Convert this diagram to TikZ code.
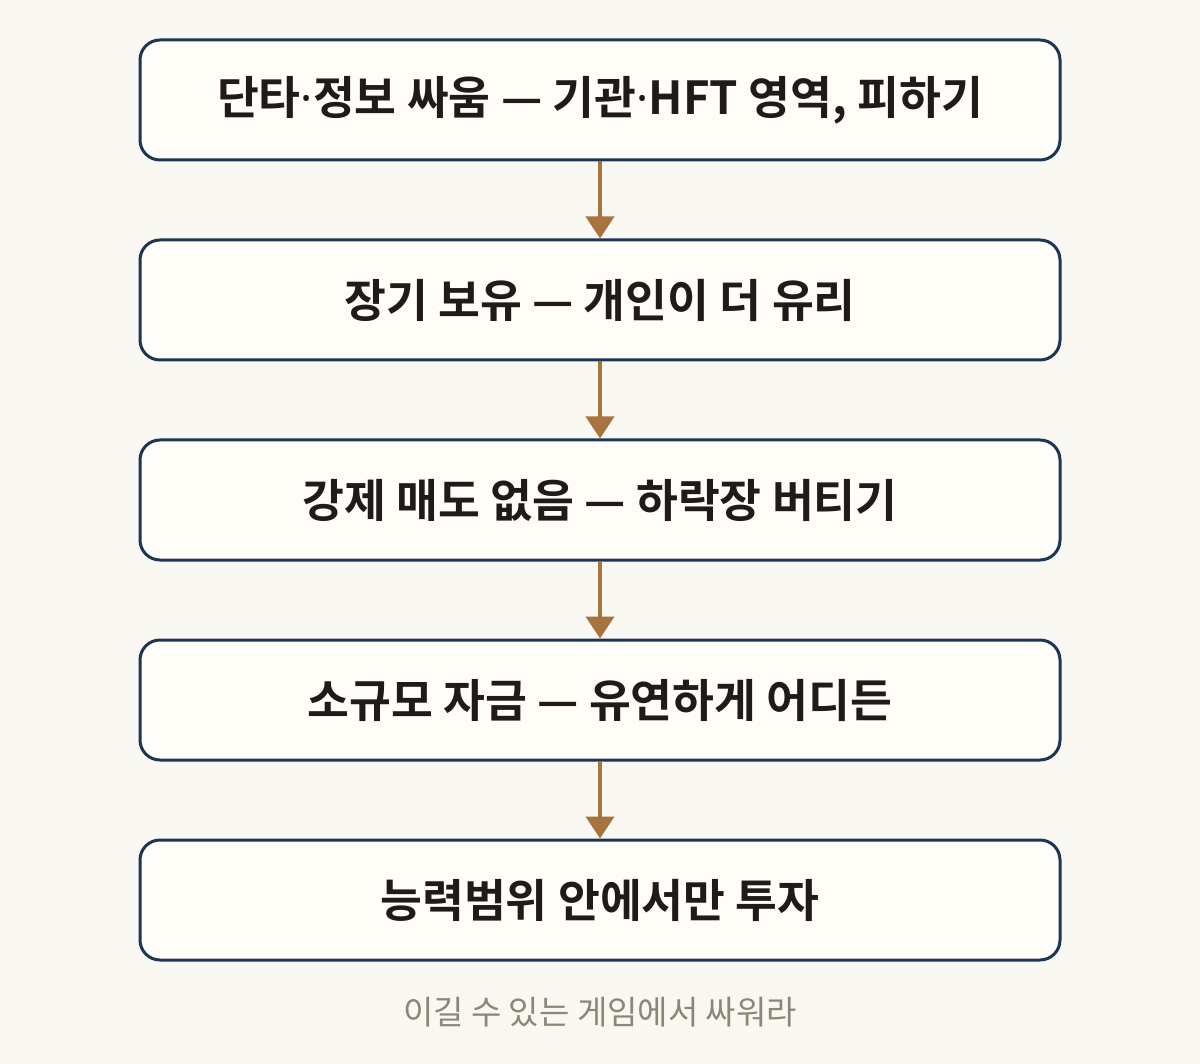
\documentclass[tikz,border=0pt]{standalone}
\usepackage{fontspec}
\setmainfont{Noto Sans CJK KR}[BoldFont={* Bold}]
\newfontfamily\krbold{Noto Sans CJK KR Bold}
\newfontfamily\krreg{Noto Sans CJK KR}
\newfontfamily\latfont{Noto Sans}
\newcommand{\mdot}{{\latfont\bfseries ·}}
\usetikzlibrary{arrows.meta}
\definecolor{bgc}{HTML}{F9F7F1}
\definecolor{boxfill}{HTML}{FFFDF8}
\definecolor{navy}{HTML}{1D3557}
\definecolor{arrowc}{HTML}{A8743E}
\definecolor{txt}{HTML}{1E1C18}
\definecolor{capc}{HTML}{8C8677}
\tikzset{
  stepbox/.style={draw=navy, line width=3pt, fill=boxfill, rounded corners=20pt,
    minimum width=920pt, minimum height=120pt, inner sep=0pt,
    font=\krbold\fontsize{45.5pt}{52pt}\selectfont, text=txt},
  flowarrow/.style={draw=arrowc, line width=4pt, -{Triangle[width=28pt,length=22pt]}},
}
\begin{document}
\begin{tikzpicture}[x=1pt,y=-1pt]
\fill[bgc] (0,0) rectangle (1200,1064);
\useasboundingbox (0,0) rectangle (1200,1064);
\node[stepbox] (b1) at (600,100) {단타\mdot 정보 싸움 — 기관\mdot HFT 영역, 피하기};
\node[stepbox] (b2) at (600,300) {장기 보유 — 개인이 더 유리};
\node[stepbox] (b3) at (600,500) {강제 매도 없음 — 하락장 버티기};
\node[stepbox] (b4) at (600,700) {소규모 자금 — 유연하게 어디든};
\node[stepbox] (b5) at (600,900) {능력범위 안에서만 투자};
\draw[flowarrow] (b1.south) -- (b2.north);
\draw[flowarrow] (b2.south) -- (b3.north);
\draw[flowarrow] (b3.south) -- (b4.north);
\draw[flowarrow] (b4.south) -- (b5.north);
\node[font=\krreg\fontsize{33pt}{38pt}\selectfont, text=capc] (cap) at (600,1012) {이길 수 있는 게임에서 싸워라};
\end{tikzpicture}
\end{document}
